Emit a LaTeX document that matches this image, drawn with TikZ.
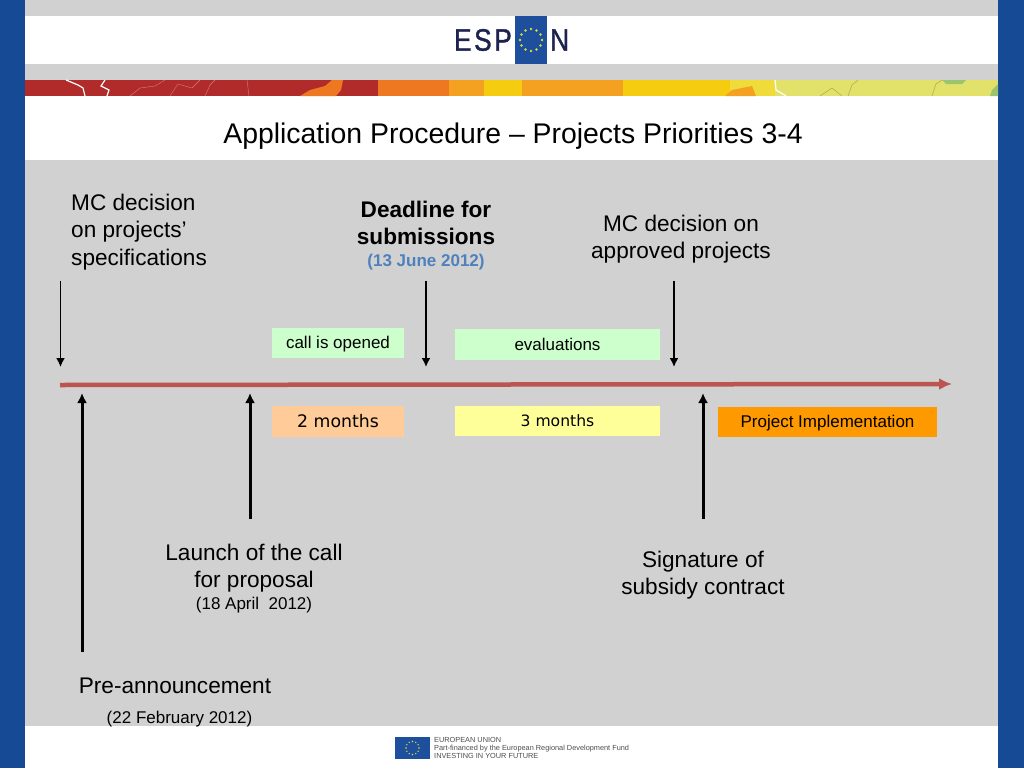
\documentclass[tikz,border=0pt]{standalone}
\usepackage{fontspec}
\setmainfont{Liberation Sans}
\newfontfamily\vfont{DejaVu Sans}
\newfontfamily\logofont[FakeBold=1.2]{Liberation Sans}
\usetikzlibrary{arrows.meta,positioning}
\definecolor{bandblue}{HTML}{174A94}
\definecolor{slidegray}{HTML}{D1D1D1}
\definecolor{flagblue}{HTML}{1D4F9C}
\definecolor{logoink}{HTML}{1E2250}
\definecolor{starcol}{HTML}{D8D84A}
\definecolor{arrowred}{HTML}{BC5450}
\definecolor{datecol}{HTML}{4F81BD}
\definecolor{greenbox}{HTML}{CCFFCC}
\definecolor{peachbox}{HTML}{FFCC99}
\definecolor{yellowbox}{HTML}{FFFF99}
\definecolor{orangebox}{HTML}{FF9900}
\definecolor{mapred}{HTML}{B22B2B}
\definecolor{maporange}{HTML}{EE7722}
\definecolor{mapamber}{HTML}{F4A020}
\definecolor{mapgold}{HTML}{F5CC10}
\definecolor{maplemon}{HTML}{EFDC3A}
\definecolor{mapkhaki}{HTML}{E2E26A}
\definecolor{mapgreen}{HTML}{9CC46C}
\newcommand{\bodyfs}{\fontsize{22.6}{27.4}\selectfont}
\newcommand{\datefs}{\fontsize{17}{19}\selectfont}
\newcommand{\boxfs}{\fontsize{17}{19}\selectfont}

\begin{document}
\begin{tikzpicture}[x=1pt,y=-1pt,
    toparrow/.style={draw=black,line width=1.7pt,-{Latex[length=9pt,width=9pt]}},
    botarrow/.style={draw=black,line width=3pt,-{Latex[length=10pt,width=10pt]}},
    stagebox/.style={inner sep=0pt,minimum height=30.5pt,text height=11pt,text depth=0pt,font=\boxfs},
    bodytext/.style={align=center,inner sep=0pt,font=\bodyfs}]
  \useasboundingbox (0,0) rectangle (1024,768);
% Slide background
  \fill[slidegray] (0,0) rectangle (1024,768);
  \fill[white] (25,16) rectangle (998,64);
  \fill[white] (25,96) rectangle (998,160);
  \fill[white] (25,726) rectangle (998,768);
  \fill[bandblue] (0,0) rectangle (25,768);
  \fill[bandblue] (998,0) rectangle (1024,768);
% Map strip
  \foreach \xa/\xb/\col in {25/378/mapred,378/449/maporange,449/484/mapamber,484/522/mapgold,
      522/623/mapamber,623/730/mapgold,730/775/maplemon,775/998/mapkhaki}
    \fill[\col] (\xa,80) rectangle (\xb,96);
  \fill[maporange] (300,96) -- (310,90) -- (325,86) -- (332,80) -- (343,80) -- (341,90) -- (336,96) -- cycle;
  \fill[mapamber] (725,96) -- (732,90) -- (742,88) -- (752,86) -- (756,96) -- cycle;
  \fill[mapgreen] (942,80) -- (966,80) -- (962,84) -- (946,84) -- cycle;
  \fill[mapgreen] (998,84) -- (992,90) -- (990,96) -- (998,96) -- cycle;
  \draw[white,line width=1.2pt] (66,80) -- (78,85) -- (83,88) -- (85,96);
  \draw[white,line width=1.2pt] (105,80) -- (101,86) -- (109,90) -- (107,96);
  \draw[white,line width=1.2pt] (775,80) -- (776,90) -- (786,96);
  \draw[mapred!60!white,line width=0.4pt] (130,96) -- (140,88) -- (155,86) -- (165,80);
  \draw[mapred!60!white,line width=0.4pt] (170,96) -- (178,84) -- (192,88) -- (200,80);
  \draw[mapred!60!white,line width=0.4pt] (205,96) -- (210,85) -- (215,80);
  \draw[mapred!60!white,line width=0.4pt] (247,80) -- (249,96);
  \draw[mapkhaki!70!black,line width=0.4pt] (820,96) -- (832,88) -- (842,96);
  \draw[mapkhaki!70!black,line width=0.4pt] (848,96) -- (852,85) -- (858,80);
  \draw[mapkhaki!70!black,line width=0.4pt] (932,96) -- (936,84) -- (942,80);
% Logo
  \fill[flagblue] (515,16) rectangle (547,64);
  \foreach \a in {0,30,...,330}
    \fill[starcol] (531,40) +(\a:11) circle (1.3);
  \node[anchor=east,inner sep=0pt,text=logoink,xscale=0.85,font=\logofont\fontsize{31}{32}\selectfont] (logoEsp) at (512,40) {E\kern3pt S\kern3pt P};
  \node[anchor=west,inner sep=0pt,text=logoink,xscale=0.85,font=\logofont\fontsize{31}{32}\selectfont] (logoN) at (550,40) {N};
% Title
  \node[inner sep=0pt,font=\fontsize{28.4}{30}\selectfont] (title) at (513,136) {Application Procedure – Projects Priorities 3-4};
% Timeline
  \coordinate (lineStart) at (60,385);
  \coordinate (lineEnd) at (952,384);
  \draw[draw=arrowred,line width=4.5pt,-{Latex[length=13pt,width=12pt]}] (lineStart) -- (lineEnd);
% Boxes
  \node[stagebox,fill=greenbox,minimum width=132pt] (callBox) at (338,343) {call is opened};
  \node[stagebox,fill=greenbox,minimum width=205pt] (evalBox) at (557.5,344.5) {evaluations};
  \node[stagebox,fill=peachbox,minimum width=132pt,font=\vfont\fontsize{17.3}{19}\selectfont] (twoBox) at (338,421.5) {2 months};
  \node[stagebox,fill=yellowbox,minimum width=205pt,font=\vfont\fontsize{15.6}{18}\selectfont] (threeBox) at (557.5,421) {3 months};
  \node[stagebox,fill=orangebox,minimum width=219pt] (implBox) at (827.5,422) {Project Implementation};
% Upper labels
  \node[bodytext,align=left,anchor=north west] (mcSpec) at (71,194) {MC decision\\on projects’\\specifications};
  \node[bodytext,anchor=north] (deadline) at (426,201) {\textbf{Deadline for}\\\textbf{submissions}\\[-6pt]{\datefs\textcolor{datecol}{\textbf{(13 June 2012)}}}};
  \node[bodytext,anchor=north] (mcApproved) at (681,215) {MC decision on\\approved projects};
% Lower labels
  \node[bodytext,anchor=north] (launch) at (254,544) {Launch of the call\\for proposal\\[-6pt]{\datefs(18 April\ \ 2012)}};
  \node[bodytext,anchor=north] (signature) at (703,551) {Signature of\\subsidy contract};
  \node[bodytext,anchor=north] (preann) at (175,678) {Pre-announcement};
  \node[inner sep=0pt,font=\datefs] (preDate) at (179.5,719) {(22 February 2012)};
% Arrows
  \coordinate (a1) at (60.5,281);   \coordinate (a1e) at (60.5,367);
  \coordinate (a2) at (426,281);  \coordinate (a2e) at (426,367);
  \coordinate (a3) at (674,281);  \coordinate (a3e) at (674,367);
  \coordinate (b1) at (82,652);   \coordinate (b1e) at (82,393);
  \coordinate (b2) at (250,519);  \coordinate (b2e) at (250,393);
  \coordinate (b3) at (703,519);  \coordinate (b3e) at (703,393);
  \draw[toparrow] (a1) -- (a1e);
  \draw[toparrow] (a2) -- (a2e);
  \draw[toparrow] (a3) -- (a3e);
  \draw[botarrow] (b1) -- (b1e);
  \draw[botarrow] (b2) -- (b2e);
  \draw[botarrow] (b3) -- (b3e);
% Footer
  \fill[flagblue] (395,737) rectangle (430,759);
  \foreach \a in {0,30,...,330}
    \fill[starcol] (412.5,748) +(\a:6.5) circle (0.8);
  \node[anchor=west,align=left,inner sep=0pt,text=black!70,font=\fontsize{7.35}{8}\selectfont] (fundText) at (434,747.5) {EUROPEAN UNION\\Part-financed by the European Regional Development Fund\\INVESTING IN YOUR FUTURE};
\end{tikzpicture}
\end{document}
